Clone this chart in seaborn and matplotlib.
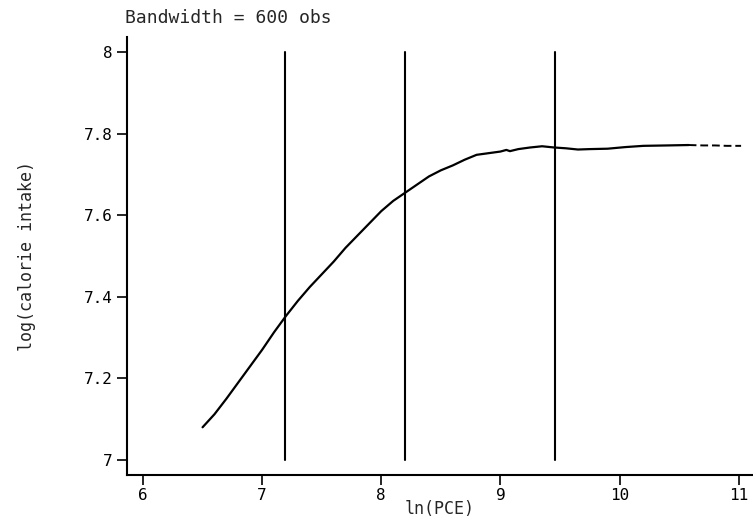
import numpy as np
import pandas as pd
import matplotlib
matplotlib.use("Agg")
import matplotlib.pyplot as plt
import seaborn as sns

# smoothed curve
ln_pce = [6.50, 6.60, 6.70, 6.80, 6.90, 7.00, 7.10, 7.20, 7.30, 7.40,
          7.50, 7.60, 7.70, 7.80, 7.90, 8.00, 8.10, 8.20, 8.30, 8.40,
          8.50, 8.60, 8.70, 8.80, 8.90, 9.00, 9.05, 9.08, 9.15, 9.25,
          9.35, 9.45, 9.55, 9.65, 9.75, 9.90, 10.05, 10.20, 10.40, 10.58]
log_cal = [7.080, 7.112, 7.150, 7.190, 7.230, 7.270, 7.313, 7.353, 7.390, 7.424,
           7.455, 7.486, 7.520, 7.550, 7.580, 7.610, 7.635, 7.655, 7.675, 7.695,
           7.710, 7.722, 7.736, 7.748, 7.752, 7.756, 7.760, 7.757, 7.762, 7.766,
           7.769, 7.766, 7.764, 7.761, 7.762, 7.763, 7.767, 7.770, 7.771, 7.772]
# sparse tail drawn broken
tail_x = [10.58, 10.70, 10.80, 10.90, 11.02]
tail_y = [7.772, 7.771, 7.771, 7.770, 7.770]

# vertical reference lines
vlines_x = [7.19, 8.20, 9.46]
x_ticks = [6, 7, 8, 9, 10, 11]
y_ticks = [7, 7.2, 7.4, 7.6, 7.8, 8]
y_ticklabels = ['7', '7.2', '7.4', '7.6', '7.8', '8']

sns.set_style("white")
plt.rcParams['font.family'] = ['DejaVu Sans Mono']

fig = plt.figure(figsize=(7.53, 5.24), dpi=100)
ax = fig.add_axes([0.1687, 0.0935, 0.8313, 0.836])

df = pd.DataFrame({'x': ln_pce, 'y': log_cal})
sns.lineplot(data=df, x='x', y='y', ax=ax, color='black', linewidth=1.6, sort=False)
ax.plot(tail_x, tail_y, color='black', linewidth=1.4, linestyle=(0, (4, 2)))

for vx in vlines_x:
    ax.plot([vx, vx], [7.0, 8.0], color='black', linewidth=1.5)

ax.set_xlim(5.866, 11.12)
ax.set_ylim(6.963, 8.037)
ax.set_xticks(x_ticks)
ax.set_yticks(y_ticks)
ax.set_yticklabels(y_ticklabels)
ax.tick_params(axis='both', direction='out', length=7, width=1.2,
               labelsize=11.5, colors='black', left=True, bottom=True)
ax.tick_params(axis='x', pad=2)

for s in ['top', 'right']:
    ax.spines[s].set_visible(False)
for s in ['left', 'bottom']:
    ax.spines[s].set_color('black')
    ax.spines[s].set_linewidth(1.5)

ax.set_xlabel('ln(PCE)', fontsize=12, labelpad=-2)
ax.set_ylabel('log(calorie intake)', fontsize=12, labelpad=34)
fig.text(125 / 753, 1 - 18 / 524, 'Bandwidth = 600 obs', fontsize=13,
         ha='left', va='center')

fig.savefig('out.png', dpi=100)
